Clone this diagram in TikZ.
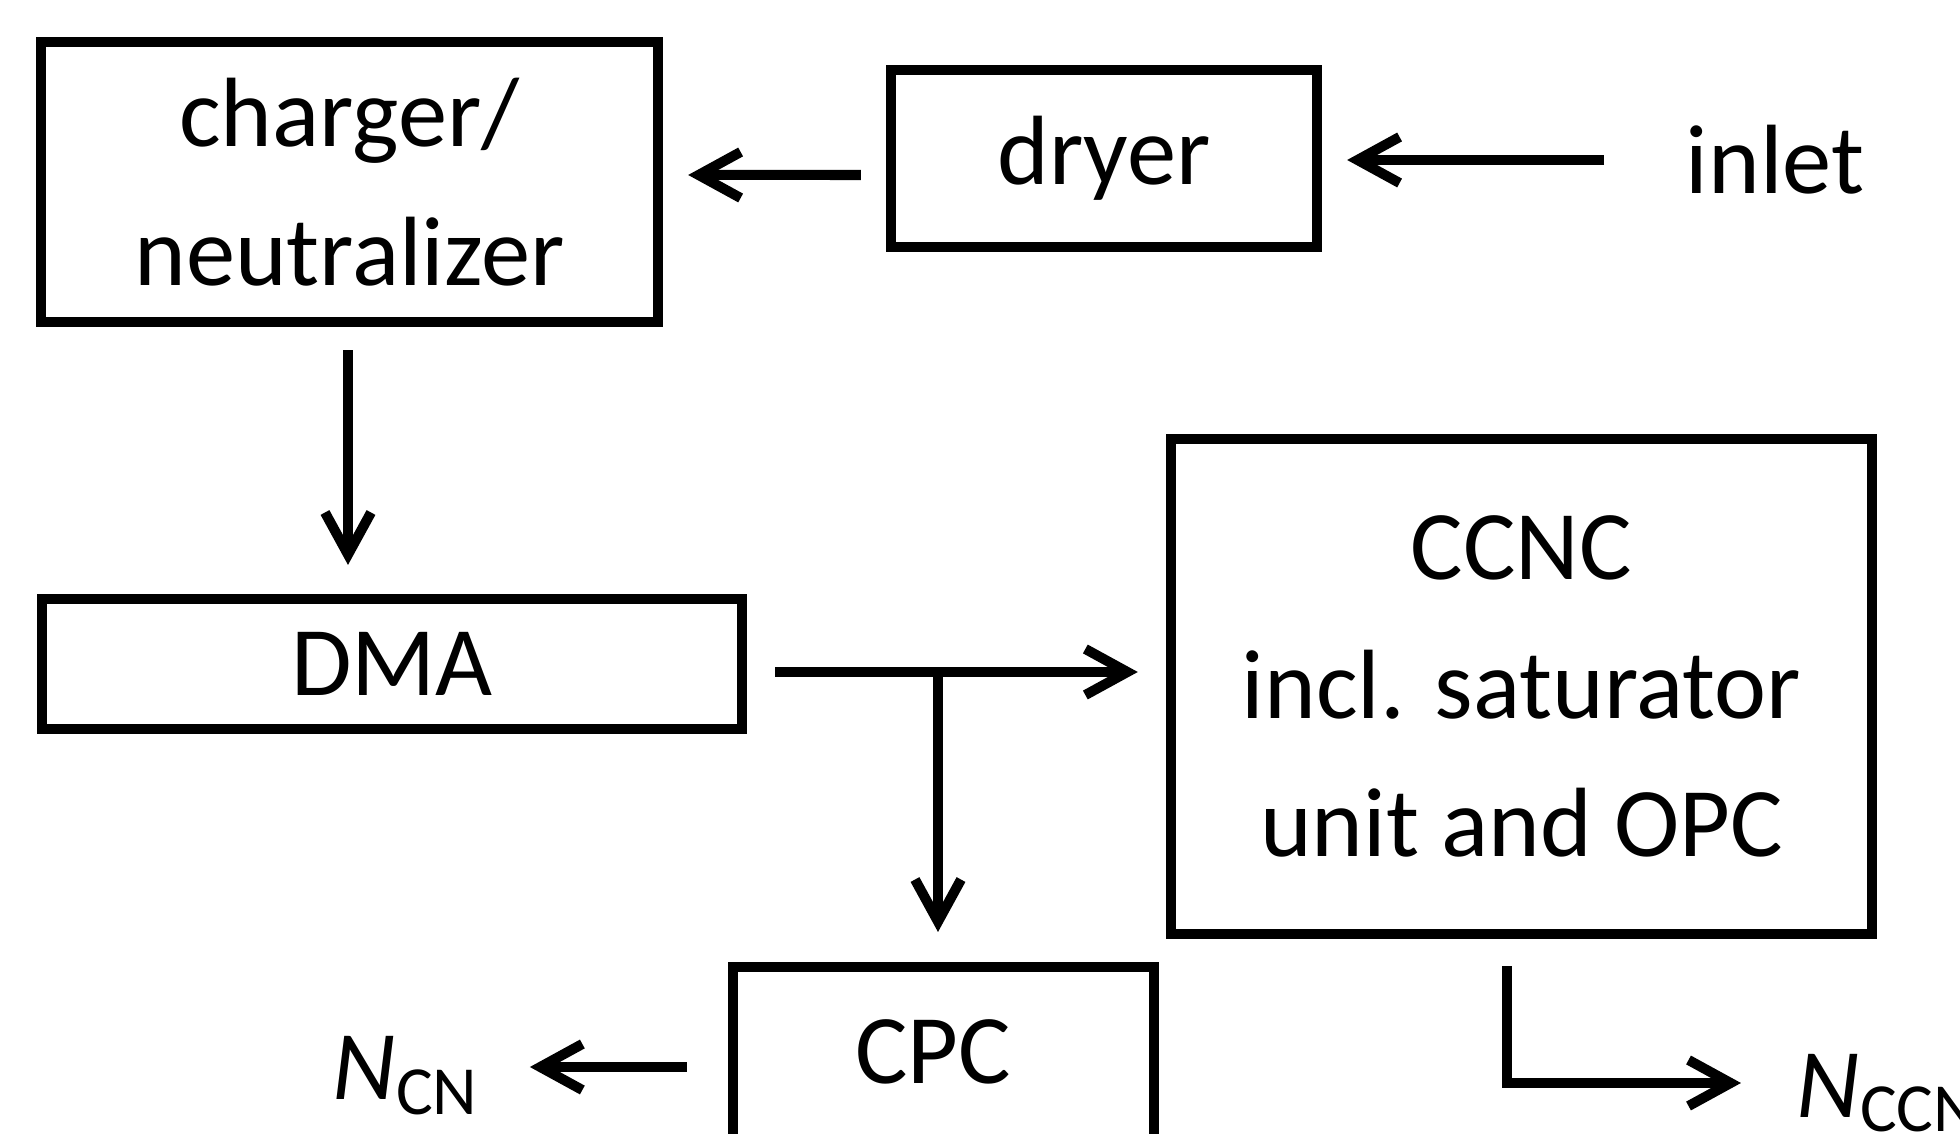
\documentclass[tikz,border=0pt]{standalone}
\usepackage{fontspec}
\setmainfont{Carlito}
\usetikzlibrary{arrows.meta}

\begin{document}
\begin{tikzpicture}[x=0.01cm, y=-0.01cm,
    every node/.style={font=\fontsize{28pt}{39.5pt}\selectfont, inner sep=0pt},
    box/.style={draw, line width=0.1cm, outer sep=0pt, align=center},
    flow/.style={line width=0.1cm, -{Straight Barb[length=0.42cm, width=0.46cm]}}]
  \useasboundingbox (0,0) rectangle (1960,1134);
  \clip (0,0) rectangle (1960,1134);

  % boxes
  \node[box, minimum width=6.17cm, minimum height=2.8cm] (charger) at (349.5,182) {charger/\\neutralizer};
  \node[box, minimum width=4.26cm, minimum height=1.77cm] (dryer) at (1104,158.5) {dryer};
  \node (inlet) at (1775,160) {inlet};
  \node[box, minimum width=7cm, minimum height=1.3cm] (dma) at (392,664) {DMA};
  \node[box, minimum width=7.01cm, minimum height=4.95cm] (ccnc) at (1521.5,686.5) {CCNC\\incl. saturator\\unit and OPC};
  \node[box, minimum width=4.21cm, minimum height=2.4cm, anchor=north] (cpc) at (943.5,967) {};
  \node (cpctext) at (933,1052) {CPC};

  % outputs
  \node[anchor=base west] (ncn) at (332,1100) {\textit{N}\textsubscript{CN}};
  \node[anchor=base west] (nccn) at (1796,1117) {\textit{N}\textsubscript{CCN}};

  % flow
  \draw[flow, shorten <=0.81cm, shorten >=0.3cm] (inlet.west) -- (dryer.east |- inlet.west);
  \draw[flow, shorten <=0.3cm, shorten >=0.3cm] ([yshift=-0.165cm]dryer.west) -- ([yshift=0.07cm]charger.east);
  \draw[flow, shorten <=0.28cm, shorten >=0.34cm] ([xshift=-0.015cm]charger.south) -- ([xshift=-0.015cm]charger.south |- dma.north);
  \coordinate (split) at (938,672);
  \draw[flow, shorten <=0.33cm, shorten >=0.33cm] (dma.east |- split) -- (ccnc.west |- split);
  \draw[flow, shorten >=0.35cm] (split) -- (split |- cpc.north);
  \coordinate (cpcout) at (733,1067);
  \draw[flow, shorten <=0.46cm, shorten >=0.5cm] (cpcout) -- (ncn.east |- cpcout);
  \coordinate (ccncout) at (1507,934);
  \draw[flow, shorten <=0.32cm, shorten >=0.55cm] (ccncout) |- (nccn.west |- 0,1083);
\end{tikzpicture}
\end{document}
